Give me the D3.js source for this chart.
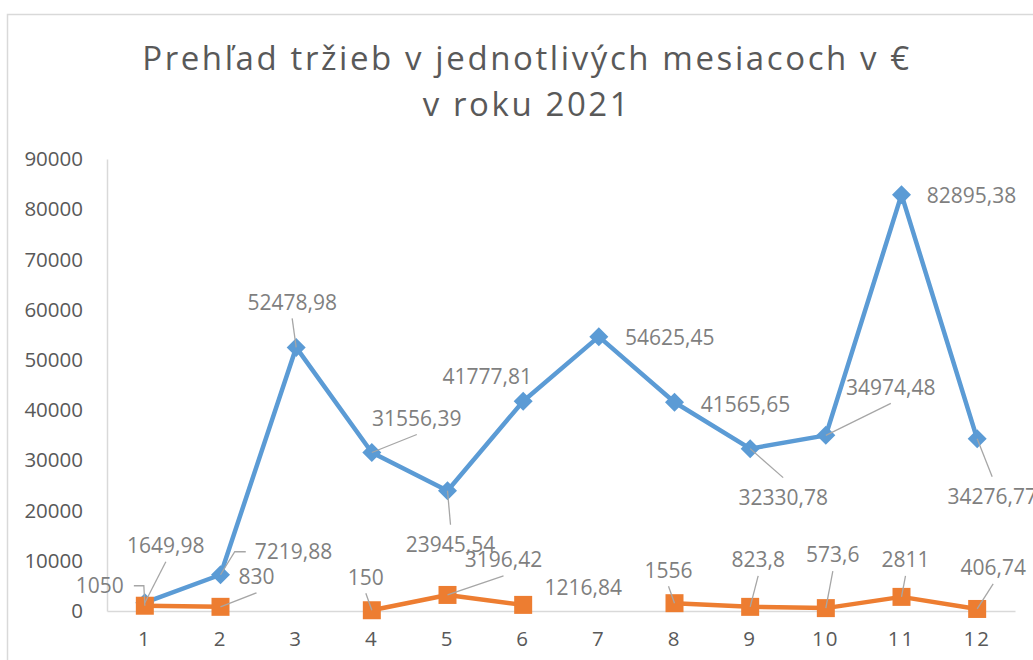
<!DOCTYPE html>
<html>
<head>
<meta charset="utf-8">
<script src="https://cdn.jsdelivr.net/npm/d3@7"></script>
<style>
  body { margin: 0; background: #fff; }
  svg { display: block; font-family: 'Open Sans', sans-serif; }
</style>
</head>
<body>
<svg id="chart" width="1033" height="660"></svg>
<script>
// months on the x axis
const months = ['1', '2', '3', '4', '5', '6', '7', '8', '9', '10', '11', '12'];
// blue series (diamonds)
const series1 = [1649.98, 7219.88, 52478.98, 31556.39, 23945.54, 41777.81,
  54625.45, 41565.65, 32330.78, 34974.48, 82895.38, 34276.77];
// orange series (squares), null = no value
const series2 = [1050, 830, null, 150, 3196.42, 1216.84,
  null, 1556, 823.8, 573.6, 2811, 406.74];
const yTicks = [0, 10000, 20000, 30000, 40000, 50000, 60000, 70000, 80000, 90000];
const titleLines = ['Prehľad tržieb v jednotlivých mesiacoch v €', 'v roku 2021'];

// label placement: [dx, dy, leader side] relative to the point
const labelPos1 = [[21, -57, 'b'], [73, -23, 'l'], [-4, -45, 'b'], [45, -34, 'b'],
  [3, 54, 't'], [-36, -25, null], [71, 1, null], [71, 2, null],
  [33, 49, 't'], [65, -48, 'b'], [70, 1, null], [15, 58, 't']];
const labelPos2 = [[-45, -20, 'r'], [36, -30, 'b'], null, [-6, -33, 'b'],
  [56, -35, 'b'], [60, -17, null], null, [-6, -33, 'b'],
  [8, -47, 'b'], [7, -53, 'b'], [4, -37, 'b'], [16, -41, 'b']];

const blue = '#5b9bd5';
const orange = '#ed7d31';
const axisColor = '#d9d9d9';

const svg = d3.select('#chart');
const margin = { top: 159, right: 18, bottom: 49, left: 107 };
const width = 1033 - margin.left - margin.right;
const height = 660 - margin.top - margin.bottom;

// outer chart frame (runs off the right / bottom of the picture)
svg.append('rect')
  .attr('x', 7.5)
  .attr('y', 14.5)
  .attr('width', 1100)
  .attr('height', 700)
  .attr('fill', '#fff')
  .attr('stroke', axisColor)
  .attr('stroke-width', 1.5);

svg.append('text')
  .attr('text-anchor', 'middle')
  .attr('fill', '#595959')
  .style('font-size', '33px')
  .style('letter-spacing', '2.6px')
  .selectAll('tspan')
  .data(titleLines)
  .enter()
  .append('tspan')
  .attr('x', 527)
  .attr('y', (d, i) => 70 + i * 46)
  .text((d) => d);

const x = d3.scaleBand().domain(months).range([0, width]);
const y = d3.scaleLinear().domain([0, 90000]).range([height, 0]);
const cx = (i) => x(months[i]) + x.bandwidth() / 2;

const main = svg.append('g')
  .attr('transform', `translate(${margin.left},${margin.top})`);

// axes
const yAxis = main.append('g')
  .call(d3.axisLeft(y).tickValues(yTicks).tickSize(0).tickPadding(24).tickFormat((d) => d));
const xAxis = main.append('g')
  .attr('transform', `translate(0,${height})`)
  .call(d3.axisBottom(x).tickSize(0).tickPadding(20));

[xAxis, yAxis].forEach((ax) => {
  ax.select('.domain').attr('stroke', axisColor).attr('stroke-width', 1.5);
  ax.selectAll('text')
    .attr('fill', '#595959')
    .style('font-size', '20.5px')
    .style('font-family', "'Open Sans', sans-serif");
});
xAxis.selectAll('text').style('letter-spacing', '2px');

const lineGen = d3.line()
  .defined((d) => d != null)
  .x((d, i) => cx(i))
  .y((d) => y(d));

const drawSeries = (values, color, markerPath) => {
  main.append('path')
    .attr('d', lineGen(values))
    .attr('fill', 'none')
    .attr('stroke', color)
    .attr('stroke-width', 4.5)
    .attr('stroke-linejoin', 'round');

  main.selectAll(null)
    .data(values.map((v, i) => [v, i]).filter((d) => d[0] != null))
    .enter()
    .append('path')
    .attr('d', markerPath)
    .attr('transform', (d) => `translate(${cx(d[1])},${y(d[0])})`)
    .attr('fill', color);
};

drawSeries(series1, blue, 'M0,-9.5L9.5,0L0,9.5L-9.5,0Z');
drawSeries(series2, orange, 'M-9,-9H9V9H-9Z');

const labelLayer = main.append('g');

const drawLabels = (values, positions) => {
  values.forEach((v, i) => {
    if (v == null || !positions[i]) return;
    const [dx, dy, side] = positions[i];
    const px = cx(i);
    const py = y(v);
    const lx = px + dx;
    const ly = py + dy;

    const label = labelLayer.append('text')
      .attr('x', lx)
      .attr('y', ly)
      .attr('dy', '0.35em')
      .attr('text-anchor', 'middle')
      .attr('fill', '#7f7f7f')
      .style('font-size', '21px')
      .text(String(v).replace('.', ','));

    if (!side) return;
    const halfW = label.node().getComputedTextLength() / 2;
    let pts;
    if (side === 'b') pts = [[px, py], [lx, ly + 16]];
    else if (side === 't') pts = [[px, py], [lx, ly - 20]];
    else if (side === 'l') pts = [[px, py], [lx - halfW - 20, ly], [lx - halfW - 9, ly]];
    else pts = [[px, py], [lx + halfW + 20, ly], [lx + halfW + 10, ly]];

    labelLayer.insert('path', ':first-child')
      .attr('d', d3.line()(pts))
      .attr('fill', 'none')
      .attr('stroke', '#a6a6a6')
      .attr('stroke-width', 1.3);
  });
};

drawLabels(series1, labelPos1);
drawLabels(series2, labelPos2);
</script>
</body>
</html>
